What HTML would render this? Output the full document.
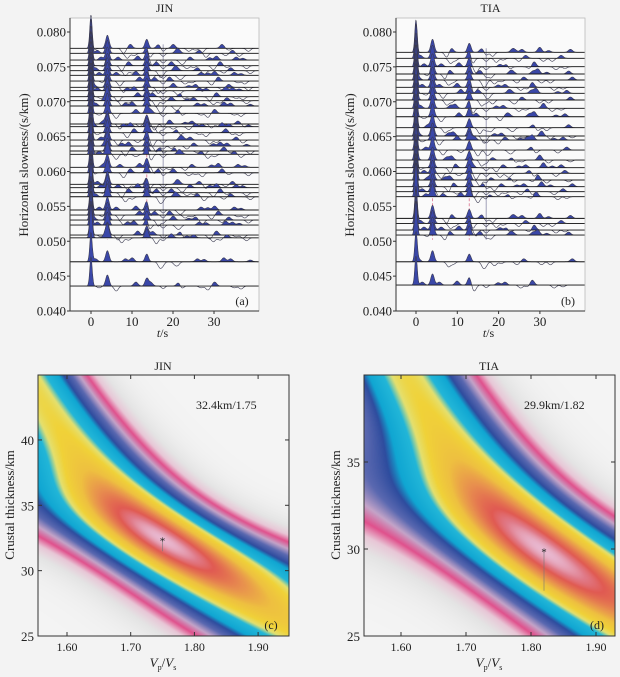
<!DOCTYPE html>
<html><head><meta charset="utf-8">
<style>
html,body{margin:0;padding:0;background:#f3f3f3;}
#root{position:relative;width:620px;height:677px;overflow:hidden;font-family:"Liberation Serif",serif;color:#222;}
svg text{font-family:"Liberation Serif",serif;fill:#222;}
canvas{position:absolute;}
</style></head>
<body>
<div id="root">
<canvas id="hmC" style="left:38px;top:375px" width="251" height="261"></canvas>
<canvas id="hmD" style="left:364px;top:375px" width="251" height="261"></canvas>
<svg id="svg" width="620" height="677" style="position:absolute;left:0;top:0"></svg>
</div>
<script>
// ---------------- data ----------------
const slowJIN = [0.07766,0.07695,0.07598,0.07517,0.07445,0.07379,0.07297,0.07207,0.07158,0.07072,0.07015,0.06939,0.06834,0.06681,0.06642,0.06556,0.06451,0.06365,0.06294,0.06246,0.0606,0.05982,0.05816,0.05768,0.05696,0.05638,0.05448,0.05376,0.05304,0.05232,0.05089,0.0505,0.04706,0.04358];
const slowTIA = [0.07709,0.07623,0.07502,0.07398,0.07312,0.07207,0.07121,0.07025,0.06906,0.06785,0.06628,0.06509,0.06451,0.06308,0.06164,0.06054,0.05974,0.05878,0.05782,0.0571,0.05639,0.05328,0.05256,0.05161,0.05089,0.04706,0.04372];
const phaseTimesJIN = [0, 4.0, 13.6, 17.6];
const phaseTimesTIA = [0, 4.0, 12.9, 17.0];
const phaseAmps = [34, 13, 9, -3];
const extraTJIN = [2.0, 7.5, 10.5, 15.5, 20.5, 22.5, 25.5, 28.5, 31.5, 34.5, 37.5];
const extraAJIN = [3, -5, 4, -6, 4, -3, 3, -4, 4, 3, -3];
const extraTTIA = [1.5, 7.0, 9.5, 15.0, 19.0, 22.0, 24.0, 27.0, 29.5, 33.0, 36.5];
const extraATIA = [3, -5, 4, -6, -4, 3, -3, 3, 5, -3, 3];
const slowTicks = [0.040,0.045,0.050,0.055,0.060,0.065,0.070,0.075,0.080];
const timeTicks = [0,10,20,30];
const kTicks = [1.60,1.70,1.80,1.90];
const hTicksC = [25,30,35,40];
const hTicksD = [25,30,35];
const bestC = [32.4, 1.75];
const bestD = [29.9, 1.82];
const stackWeights = [0.7, 0.2, 0.1];
const stackSigmas = [0.62, 1.3, 1.8];
// ---------------- helpers ----------------
const NS='http://www.w3.org/2000/svg';
const svg=document.getElementById('svg');
function mk(tag,attrs,parent){const e=document.createElementNS(NS,tag);for(const k in attrs)e.setAttribute(k,attrs[k]);(parent||svg).appendChild(e);return e;}
function txt(s,x,y,size,anchor,extra){const e=mk('text',Object.assign({x:x,y:y,'font-size':size,'text-anchor':anchor||'start'},extra||{}));e.textContent=s;return e;}

// ---------------- receiver function panels ----------------
function rfPanel(cfg){
  const g=mk('g',{});
  
  
  const ys=s=>311-(s-0.040)*6975;
  const xs=t=>cfg.x0t+t*cfg.pxs;
  mk('rect',{x:cfg.x0,y:18,width:cfg.x1-cfg.x0,height:293,fill:'#fafafa',stroke:'none'},g);
  const tmin=(cfg.x0-cfg.x0t)/cfg.pxs, tmax=(cfg.x1-cfg.x0t)/cfg.pxs;
  const topY=ys(cfg.slow[0])-4, botY=ys(0.0505)+2;
  [cfg.pt[1],cfg.pt[2]].forEach(t=>{const l=mk('line',{x1:xs(t),x2:xs(t),y1:topY,y2:botY,stroke:'#e08aa0','stroke-width':1,'stroke-dasharray':'3,2'},g);});
  const gl=mk('line',{x1:xs(cfg.pt[3]),x2:xs(cfg.pt[3]),y1:topY,y2:botY,stroke:'#a0a0b8','stroke-width':1},g);
  
  cfg.slow.forEach((s,i)=>{
    const yb=ys(s);
    const scale=(s>0.05)?1:0.85;
    const amp=t=>{
      let v=0;
      const w=[0.42,0.6,0.6,0.6];
      for(let j=0;j<4;j++){v+=cfg.pa[j]*scale*Math.exp(-Math.pow((t-cfg.pt[j])/w[j],2));}
      for(let j=0;j<cfg.et.length;j++){
        const sh=(((i*37+j*11)%7)-3)*0.45;
        const sg=((i+j)%3===0)?-0.6:1;
        v+=cfg.ea[j]*sg*Math.exp(-Math.pow((t-cfg.et[j]-sh)/0.7,2));
      }
      return v;
    };
    let fill='M'+xs(tmin)+','+yb, line='';
    for(let t=tmin;t<=tmax+0.001;t+=0.1){
      const a=amp(t);
      const px=xs(t).toFixed(1);
      fill+=' L'+px+','+(yb-Math.max(a,0)).toFixed(1);
      line+=(line?' L':'M')+px+','+(yb-a).toFixed(1);
    }
    fill+=' L'+xs(tmax)+','+yb+' Z';
    const tr=mk('g',{},g);
    
    
    mk('path',{d:fill,fill:'#3a47a8',stroke:'none'},tr);
    mk('path',{d:line,fill:'none',stroke:'#3a3a50','stroke-width':0.6},tr);
    mk('line',{x1:cfg.x0,x2:cfg.x1,y1:yb,y2:yb,stroke:'#1a1a1a','stroke-width':0.9},tr);
  });
  mk('rect',{x:cfg.x0,y:18,width:cfg.x1-cfg.x0,height:293,fill:'none',stroke:'#bbb','stroke-width':0.8},g);
  mk('line',{x1:cfg.x0,x2:cfg.x0,y1:18,y2:311,stroke:'#333','stroke-width':1},g);
  mk('line',{x1:cfg.x0,x2:cfg.x1,y1:311,y2:311,stroke:'#333','stroke-width':1},g);
  slowTicks.forEach(s=>{const y=ys(s);mk('line',{x1:cfg.x0-3,x2:cfg.x0,y1:y,y2:y,stroke:'#333'},g);const t=txt(s.toFixed(3),cfg.x0-4,y+4.5,13,'end');});
  timeTicks.forEach(v=>{const x=xs(v);mk('line',{x1:x,x2:x,y1:311,y2:314,stroke:'#333'},g);const t=txt(String(v),x,326,13,'middle');});
  const xt=txt('',(cfg.x0+cfg.x1)/2-2,337,12,'middle');xt.innerHTML='<tspan font-style="italic">t</tspan>/s';
  
  const yt=txt('Horizontal slowness/(s/km)',0,0,13,'middle',{transform:'translate('+(cfg.x0-42)+',165) rotate(-90)'});
  
  const ti=txt(cfg.title,(cfg.x0+cfg.x1)/2,12,12,'middle');
  
  const pl=txt(cfg.label,cfg.x1-17,305,12,'middle');
  
}
rfPanel({name:'rf-panel-jin',title:'JIN',label:'(a)',x0:70,x1:259,x0t:91,pxs:4.1,slow:slowJIN,pt:phaseTimesJIN,pa:phaseAmps,et:extraTJIN,ea:extraAJIN});
rfPanel({name:'rf-panel-tia',title:'TIA',label:'(b)',x0:396,x1:585,x0t:416,pxs:4.13,slow:slowTIA,pt:phaseTimesTIA,pa:phaseAmps,et:extraTTIA,ea:extraATIA});

// ---------------- H-k stacking panels ----------------
const cmapV=[0,0.08,0.14,0.20,0.27,0.35,0.44,0.50,0.62,0.67,0.72,0.80,0.87,0.94,0.97,1.0];
const cmapC=['#f4f4f4','#e4e4e4','#e8c6d6','#e0508c','#c4a4c8','#5a68b0','#2e4c9e','#10a6d2','#22b6d8','#e4e070','#f0d238','#eec040','#e8904e','#e05a52','#e07a88','#e8b8d0'];
function hex(c){return [parseInt(c.substr(1,2),16),parseInt(c.substr(3,2),16),parseInt(c.substr(5,2),16)];}
const cmapRGB=cmapC.map(hex);
function cmap(v){v=Math.max(0,Math.min(1,v));for(let i=1;i<cmapV.length;i++){if(v<=cmapV[i]){const f=(v-cmapV[i-1])/(cmapV[i]-cmapV[i-1]);const a=cmapRGB[i-1],b=cmapRGB[i];return [a[0]+(b[0]-a[0])*f,a[1]+(b[1]-a[1])*f,a[2]+(b[2]-a[2])*f];}}return cmapRGB[cmapRGB.length-1];}
const Vp=6.3,p=0.06;
function times(H,k){const vs=Vp/k;const a=Math.sqrt(1/(vs*vs)-p*p),b=Math.sqrt(1/(Vp*Vp)-p*p);return [H*(a-b),H*(a+b),2*H*a];}
function hkPanel(cfg){
  const cv=document.getElementById(cfg.canvas);const ctx=cv.getContext('2d');
  const W=cv.width,Hh=cv.height;const img=ctx.createImageData(W,Hh);
  const t0=times(cfg.best[0],cfg.best[1]);
  const kx=px=>cfg.k0+(px+cfg.x0-cfg.kx0)/cfg.kpx;
  const hy=py=>25+(636-(py+375))/cfg.hpx;
  for(let py=0;py<Hh;py++){for(let px=0;px<W;px++){
    const t=times(hy(py+0.5),kx(px+0.5));
    let v=0;for(let j=0;j<3;j++)v+=stackWeights[j]*Math.exp(-Math.pow((t[j]-t0[j])/stackSigmas[j],2));
    const c=cmap(v);const o=(py*W+px)*4;img.data[o]=c[0];img.data[o+1]=c[1];img.data[o+2]=c[2];img.data[o+3]=255;
  }}
  ctx.putImageData(img,0,0);
  const g=mk('g',{});
  const X=k=>cfg.kx0+(k-cfg.k0)*cfg.kpx, Y=h=>636-(h-25)*cfg.hpx;
  const bx=X(cfg.best[1]),by=Y(cfg.best[0]);
  mk('line',{x1:bx,x2:bx,y1:by,y2:by+cfg.drop,stroke:'#777','stroke-width':0.6},g);
  const st=txt('*',bx,by+5,11,'middle');
  mk('rect',{x:cfg.x0,y:375,width:251,height:261,fill:'none',stroke:'#333','stroke-width':1},g);
  kTicks.forEach(k=>{const x=X(k);mk('line',{x1:x,x2:x,y1:636,y2:632,stroke:'#333'},g);mk('line',{x1:x,x2:x,y1:375,y2:379,stroke:'#333'},g);const t=txt(k.toFixed(2),x,651,12,'middle');});
  cfg.hTicks.forEach(h=>{const y=Y(h);mk('line',{x1:cfg.x0,x2:cfg.x0+4,y1:y,y2:y,stroke:'#333'},g);mk('line',{x1:cfg.x0+251,x2:cfg.x0+247,y1:y,y2:y,stroke:'#333'},g);const t=txt(String(h),cfg.x0-4,y+5,13,'end');});
  const xt=txt('',cfg.x0+125,667,13,'middle');xt.innerHTML='<tspan font-style="italic">V</tspan><tspan font-size="8" dy="3">p</tspan><tspan dy="-3">/</tspan><tspan font-style="italic">V</tspan><tspan font-size="8" dy="3">s</tspan>';
  
  const yt=txt('Crustal thickness/km',0,0,13,'middle',{transform:'translate('+(cfg.x0-24)+',505) rotate(-90)'});
  
  const ti=txt(cfg.title,cfg.x0+125,370,12,'middle');
  const an=txt(cfg.best[0].toFixed(1)+'km/'+cfg.best[1].toFixed(2),cfg.annX,409,12,'start');
  const pl=txt(cfg.label,cfg.x0+233,629,12,'middle');
}
hkPanel({name:'hk-panel-jin',canvas:'hmC',x0:38,kx0:67,k0:1.60,kpx:637,hpx:13.07,best:bestC,hTicks:hTicksC,title:'JIN',label:'(c)',annX:196,drop:12});
hkPanel({name:'hk-panel-tia',canvas:'hmD',x0:364,kx0:401,k0:1.60,kpx:650,hpx:17.4,best:bestD,hTicks:hTicksD,title:'TIA',label:'(d)',annX:524,drop:40});
</script>
</body></html>
